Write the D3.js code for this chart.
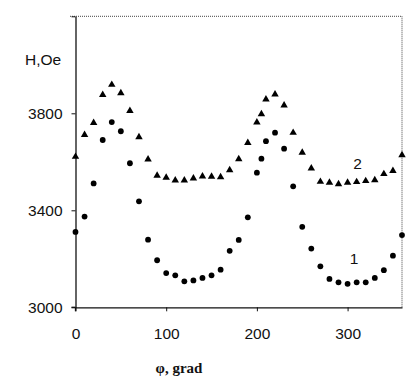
<!DOCTYPE html>
<html>
<head>
<meta charset="utf-8">
<script src="https://cdn.jsdelivr.net/npm/d3@7"></script>
<style>
  body { margin: 0; background: #fff; }
  svg { display: block; }
</style>
</head>
<body>
<svg id="chart"></svg>
<script>
// angle, degrees
const phi = [0,10,20,30,40,50,60,70,80,90,100,110,120,130,140,150,160,170,180,190,
             200,205,210,220,230,240,250,260,270,280,290,300,310,320,330,340,350,360]

// curve 1 (circles), Oe
const h1 = [3311,3374,3511,3690,3764,3726,3594,3437,3279,3194,3141,3132,3107,3111,3121,3132,3155,3233,3278,3371,
            3555,3613,3685,3720,3654,3499,3332,3242,3169,3117,3103,3097,3103,3103,3121,3153,3213,3298]

// curve 2 (triangles), Oe
const h2 = [3621,3711,3761,3876,3918,3883,3810,3702,3610,3543,3535,3524,3524,3532,3540,3539,3537,3566,3611,3678,
            3763,3797,3858,3878,3833,3720,3638,3573,3518,3514,3508,3514,3517,3521,3525,3550,3563,3628]

const xTicks = [0,100,200,300]
const yTicks = [3000,3400,3800,4200]

const W = 420, H = 384
const svg = d3.select('#chart').attr('width', W).attr('height', H)

const x = d3.scaleLinear().domain([0,360]).range([75.5,402])
const y = d3.scaleLinear().domain([3000,4200]).range([307.3,16.3])

// frame: top and right dotted
svg.append('line')
    .attr('x1', 70).attr('x2', x(360)).attr('y1', y(4200)).attr('y2', y(4200))
    .attr('stroke', '#444').attr('stroke-width', 1).attr('stroke-dasharray', '1,1')
svg.append('line')
    .attr('x1', x(360)).attr('x2', x(360)).attr('y1', y(4200)).attr('y2', y(3000))
    .attr('stroke', '#444').attr('stroke-width', 1).attr('stroke-dasharray', '1,1')

const xAxis = svg.append('g')
    .attr('transform', 'translate(0,' + y(3000) + ')')
    .call(d3.axisBottom(x).tickValues(xTicks).tickSize(4).tickSizeOuter(0).tickPadding(17))
const yAxis = svg.append('g')
    .attr('transform', 'translate(' + x(0) + ',0)')
    .call(d3.axisLeft(y).tickValues(yTicks).tickSize(4).tickSizeOuter(0).tickPadding(9)
        .tickFormat(d => d === 4200 ? '' : d))

;[xAxis, yAxis].forEach(g => {
    g.selectAll('path').attr('stroke', '#111').attr('stroke-width', 1.3)
    g.selectAll('line').attr('stroke', '#111')
    g.selectAll('text')
        .attr('font-family', 'Liberation Sans, Arial, sans-serif')
        .attr('font-size', '15.5px')
        .attr('fill', '#111')
})
// left axis runs a little below the bottom axis
yAxis.append('line').attr('x1', 0).attr('x2', 0).attr('y1', y(3000)).attr('y2', y(3000) + 4)
    .attr('stroke', '#111').attr('stroke-width', 1.3)
xAxis.append('line').attr('x1', x(0) - 4).attr('x2', x(0)).attr('y1', 0).attr('y2', 0)
    .attr('stroke', '#111').attr('stroke-width', 1.3)

const tri = d3.symbol().type(d3.symbolTriangle).size(24)

svg.append('g').selectAll('path')
    .data(phi.map((p, i) => [p, h2[i]]))
    .join('path')
    .attr('d', tri)
    .attr('transform', d => 'translate(' + x(d[0]) + ',' + y(d[1]) + ')')
    .attr('fill', '#000')

svg.append('g').selectAll('circle')
    .data(phi.map((p, i) => [p, h1[i]]))
    .join('circle')
    .attr('cx', d => x(d[0]))
    .attr('cy', d => y(d[1]))
    .attr('r', 2.9)
    .attr('fill', '#000')

const label = (t, px, py, opts) => svg.append('text')
    .attr('x', px).attr('y', py)
    .attr('text-anchor', opts.anchor || 'middle')
    .attr('font-family', opts.family || 'Liberation Sans, Arial, sans-serif')
    .attr('font-size', opts.size || '15.5px')
    .attr('font-weight', opts.weight || 'normal')
    .attr('fill', '#111')
    .text(t)

label('H,Oe', 25, 65, { anchor: 'start' })
label('2', 357.5, 169, {})
label('1', 354, 264, {})
label('φ, grad', 179, 373, { family: 'Liberation Serif, Times New Roman, serif', weight: 'bold', size: '15px' })
</script>
</body>
</html>
